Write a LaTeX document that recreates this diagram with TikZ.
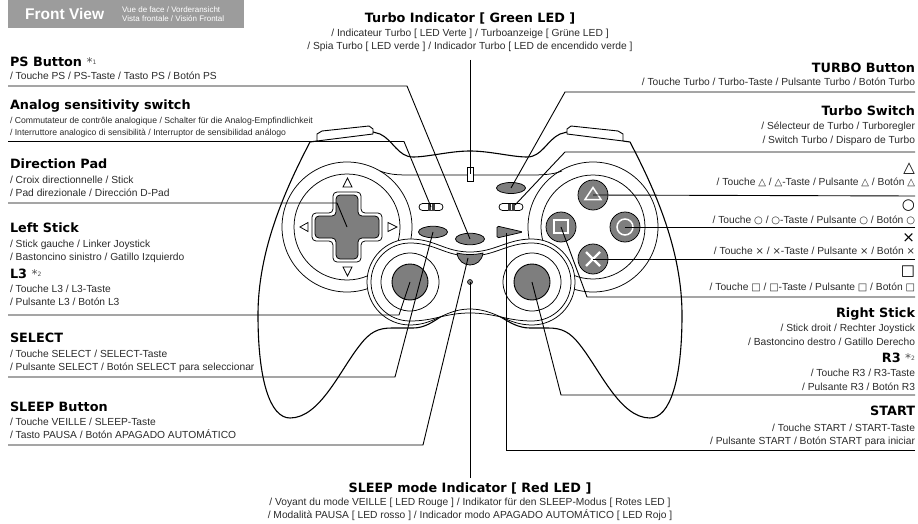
\documentclass[tikz,border=0pt]{standalone}
\usepackage{fontspec}
\setmainfont{Liberation Sans}
\newfontfamily\boldf{DejaVu Sans}[BoldFont={DejaVu Sans Bold}]
\newfontfamily\symf{DejaVu Sans}
\newcommand{\ttlfont}{\fontsize{12.8}{13}\selectfont\boldf\bfseries}
\newcommand{\subfont}{\fontsize{10.25}{11}\selectfont}
\newcommand{\subtight}{\fontsize{8.65}{10}\selectfont}
\newcommand{\sy}[1]{{\symf\fontsize{10}{10}\selectfont #1}}
\newcommand{\bigsy}[1]{{\symf\fontsize{15}{15}\selectfont #1}}
\newcommand{\noteref}[1]{{\fontseries{m}\selectfont\color{black!70}\fontsize{12}{12}\selectfont\symf *\raisebox{2pt}{\fontsize{6}{6}\selectfont #1}}}
\definecolor{btn}{HTML}{7E7E7E}
\definecolor{hdr}{HTML}{9C9C9C}
\definecolor{ink}{HTML}{2A2A2A}
\tikzset{
  x=1pt,y=-1pt,
  txt/.style={inner sep=0pt,outer sep=0pt,text=ink,text height=7pt,text depth=2pt},
  ttlL/.style={txt,anchor=west,text=black,font=\ttlfont},
  ttlR/.style={txt,anchor=east,text=black,font=\ttlfont},
  ttlC/.style={txt,anchor=center,text=black,font=\ttlfont},
  subL/.style={txt,anchor=west,font=\subfont},
  subR/.style={txt,anchor=east,font=\subfont},
  subC/.style={txt,anchor=center,font=\subfont},
  tightL/.style={txt,anchor=west,font=\subtight},
  body/.style={draw=black,line width=1.1pt,line join=round},
  thin line/.style={draw=black,line width=.75pt},
  btnshape/.style={draw=black,line width=.75pt,fill=btn},
  lead/.style={draw=black,line width=.9pt},
  icon/.style={draw=white,line width=1.5pt},
  ebtn/.style={ellipse,draw=black,line width=.75pt,fill=btn,minimum width=29pt,minimum height=11.5pt,inner sep=0pt},
  rbtn/.style={circle,draw=black,line width=.75pt,fill=btn,minimum size=30pt,inner sep=0pt},
  knob/.style={circle,draw=black,line width=.9pt,fill=btn,minimum size=36pt,inner sep=0pt},
  pill/.style={rounded rectangle,draw=black,line width=.75pt,fill=white,minimum width=24pt,minimum height=7pt,inner sep=0pt},
}
\usetikzlibrary{shapes.geometric,shapes.misc}
\begin{document}
\begin{tikzpicture}
\useasboundingbox (0,0) rectangle (918,524);
% header
\node[draw=none,fill=hdr,inner sep=0pt,minimum width=236pt,minimum height=28pt,anchor=north west] (hdrbox) at (8,0) {};
\node[anchor=west,inner sep=0pt,text=white,font=\fontsize{15.5}{16}\selectfont\bfseries] (hdrmain) at (25,14) {Front View};
\node[anchor=west,inner sep=0pt,text=white,font=\fontsize{8}{8.5}\selectfont,align=left] (hdrsub) at (122,14) {Vue de face / Vorderansicht\\Vista frontale / Visión Frontal};

% pads
\draw[thin line] (347,227) circle[radius=65];
\draw[thin line] (347,227) circle[radius=53];
\draw[thin line] (593,227) circle[radius=65];
\draw[thin line] (593,227) circle[radius=52];
% seam
\draw[thin line] (380,171) .. controls (390,175) and (400,175) .. (412,175) -- (528,175) .. controls (540,175) and (552,175) .. (562,171);
% body
\draw[body] (470,151) .. controls (450,151) and (428,157) .. (413,157) .. controls (398,157) and (393,140) .. (380,134) -- (373,132);
\draw[body] (470,151) .. controls (490,151) and (512,157) .. (527,157) .. controls (542,157) and (547,140) .. (560,134) -- (567,132);
% shoulders
\draw[body,line width=.9pt] (317,141) -- (317,134) -- (322,131) -- (369,126) -- (373,129) -- (373,134) -- cycle;
\draw[body,line width=.9pt] (623,141) -- (623,134) -- (618,131) -- (571,126) -- (567,129) -- (567,134) -- cycle;
% lower body
\draw[body] (317,141) -- (310,142) .. controls (285,190) and (258,250) .. (258,315) .. controls (258,380) and (270,418) .. (290,418) .. controls (320,418) and (340,370) .. (360,345) .. controls (370,332) and (378,328) .. (392,328) -- (413,328) .. controls (435,328) and (445,306) .. (470,306) .. controls (495,306) and (507,328) .. (530,328) -- (548,328) .. controls (562,328) and (570,332) .. (580,345) .. controls (600,370) and (620,418) .. (650,418) .. controls (670,418) and (682,380) .. (682,315) .. controls (682,250) and (655,190) .. (630,142) -- (623,141);
% stick peanut
\draw[thin line,fill=white] (470,252) .. controls (445,252) and (435,239) .. (410,239) arc[start angle=270,end angle=90,radius=43] .. controls (435,325) and (445,309) .. (470,309) .. controls (495,309) and (507,325) .. (532,325) arc[start angle=90,end angle=-90,radius=43] .. controls (507,239) and (495,252) .. (470,252) -- cycle;
\draw[thin line] (470,256) .. controls (445,256) and (435,243) .. (410,243) arc[start angle=270,end angle=90,radius=39] .. controls (435,321) and (445,313) .. (470,313) .. controls (495,313) and (507,321) .. (532,321) arc[start angle=90,end angle=-90,radius=39] .. controls (507,243) and (495,256) .. (470,256) -- cycle;
\draw[thin line] (410,282) circle[radius=29];
\draw[thin line] (532,282) circle[radius=29];
\node[knob] (lstick) at (410,282) {};
\node[knob] (rstick) at (532,282) {};
% D-pad
\draw[thin line,fill=white,rounded corners=4pt] (333,192) -- (361,192) -- (361,213) -- (382,213) -- (382,241) -- (361,241) -- (361,262) -- (333,262) -- (333,241) -- (312,241) -- (312,213) -- (333,213) -- cycle;
\draw[btnshape,rounded corners=4pt] (336,195) -- (358,195) -- (358,216) -- (379,216) -- (379,238) -- (358,238) -- (358,259) -- (336,259) -- (336,238) -- (315,238) -- (315,216) -- (336,216) -- cycle;
\coordinate (dpad) at (347,227);
% arrows on the pad
\draw[thin line,line join=miter] (347.5,178) -- (343,187) -- (352,187) -- cycle;
\draw[thin line,line join=miter] (347.5,276) -- (343,267) -- (352,267) -- cycle;
\draw[thin line,line join=miter] (300,227) -- (308,222.5) -- (308,231.5) -- cycle;
\draw[thin line,line join=miter] (397,227) -- (388,222.5) -- (388,231.5) -- cycle;
% face buttons
\node[rbtn] (tri) at (593,195) {};
\node[rbtn] (cir) at (625,227) {};
\node[rbtn] (crs) at (593,259) {};
\node[rbtn] (squ) at (561,227) {};
\draw[icon,line join=miter] (593,187.5) -- (585,199.5) -- (601,199.5) -- cycle;
\draw[icon] (625,227) circle[radius=8];
\draw[icon,line width=2.4pt] (586,252) -- (600,266) (600,252) -- (586,266);
\draw[icon] (554,220) rectangle (568,233);
% centre controls
\node[ebtn] (select) at (433,232) {};
\node[ebtn] (psbtn) at (470,239) {};
\node[ebtn,minimum height=11pt] (turbobtn) at (511,188) {};
\draw[btnshape,rounded corners=1.5pt] (497,226) -- (523,232) -- (497,238) -- cycle;
\coordinate (startbtn) at (506.5,233);
\draw[btnshape] (457,253) .. controls (465,255) and (475,255) .. (483,253) .. controls (482,261) and (476,265) .. (470,265) .. controls (464,265) and (458,261) .. (457,253) -- cycle;
\coordinate (sleepbtn) at (468,258);
% switches
\node[pill] (lsw) at (431,207) {};
\node[pill] (rsw) at (511,207) {};
\fill[black!75] (427.5,203.5) rectangle (434.5,210.5);
\fill[black!75] (507.5,203.5) rectangle (514.5,210.5);
\draw[white,line width=.4pt] (431,204) -- (431,210) (511,204) -- (511,210);
% LEDs
\node[draw=black,line width=.75pt,fill=white,minimum width=6pt,minimum height=14pt,inner sep=0pt] (gled) at (470,174) {};
\node[circle,draw=black,line width=.6pt,fill=btn,minimum size=5pt,inner sep=0pt] (rled) at (470,282) {};

% connector anchors
\coordinate (a1) at (8,86);   \coordinate (b1) at (407,86);
\coordinate (a2) at (8,141.5);\coordinate (b2) at (404,141.5); \coordinate (c2) at (431,207);
\coordinate (a3) at (8,203);  \coordinate (b3) at (337,203);
\coordinate (a4) at (8,315);  \coordinate (b4) at (399,315);
\coordinate (a5) at (8,377);  \coordinate (b5) at (395,377);
\coordinate (a6) at (8,445);  \coordinate (b6) at (423,445);
\coordinate (a7) at (470,60);
\coordinate (a8) at (470,478);
\coordinate (a9) at (915,92); \coordinate (b9) at (565,92);
\coordinate (a10) at (915,152);\coordinate (b10) at (565,152);\coordinate (c10) at (515,205);
\coordinate (a11) at (915,196);
\coordinate (a12) at (915,227);
\coordinate (a13) at (915,259);
\coordinate (a14) at (915,297);\coordinate (b14) at (587,297);
\coordinate (a15) at (915,395);\coordinate (b15) at (561,395);
\coordinate (a16) at (915,450);\coordinate (b16) at (506.5,450);

\draw[lead] (a1) -- (b1) -- (psbtn.center);
\draw[lead] (a2) -- (b2) -- (c2);
\draw[lead] (a3) -- (b3) -- (dpad);
\draw[lead] (a4) -- (b4) -- (lstick.center);
\draw[lead] (a5) -- (b5) -- (select.center);
\draw[lead] (a6) -- (b6) -- (sleepbtn);
\draw[lead] (a7) -- (gled.center);
\draw[lead] (a8) -- (rled.center);
\draw[lead] (a9) -- (b9) -- (turbobtn.center);
\draw[lead] (a10) -- (b10) -- (c10);
\draw[lead] (a11) -- (tri.center);
\draw[lead] (a12) -- (cir.center);
\draw[lead] (a13) -- (crs.center);
\draw[lead] (a14) -- (b14) -- (squ.center);
\draw[lead] (a15) -- (b15) -- (rstick.center);
\draw[lead] (a16) -- (b16) -- (startbtn);

% top centre
\node[ttlC] (t1) at (470,20) {Turbo Indicator [ Green LED ]};
\node[subC] (t2) at (470,34) {/ Indicateur Turbo [ LED Verte ] / Turboanzeige [ Grüne LED ]};
\node[subC] (t3) at (470,47) {/ Spia Turbo [ LED verde ] / Indicador Turbo [ LED de encendido verde ]};
% bottom centre
\node[ttlC] (u1) at (470,490) {SLEEP mode Indicator [ Red LED ]};
\node[subC] (u2) at (470,503) {/ Voyant du mode VEILLE [ LED Rouge ] / Indikator für den SLEEP-Modus [ Rotes LED ]};
\node[subC] (u3) at (470,516) {/ Modalità PAUSA [ LED rosso ] / Indicador modo APAGADO AUTOMÁTICO [ LED Rojo ]};
% left column
\node[ttlL] (l1) at (10,64) {PS Button \noteref{1}};
\node[subL] (l2) at (10,77) {/ Touche PS / PS-Taste / Tasto PS / Botón PS};
\node[ttlL] (l3) at (10,107) {Analog sensitivity switch};
\node[tightL] (l4) at (10,121) {/ Commutateur de contrôle analogique / Schalter für die Analog-Empfindlichkeit};
\node[tightL] (l5) at (10,133) {/ Interruttore analogico di sensibilità / Interruptor de sensibilidad análogo};
\node[ttlL] (l6) at (10,166) {Direction Pad};
\node[subL] (l7) at (10,181) {/ Croix directionnelle / Stick};
\node[subL] (l8) at (10,194) {/ Pad direzionale / Dirección D-Pad};
\node[ttlL] (l9) at (10,230) {Left Stick};
\node[subL] (l10) at (10,245) {/ Stick gauche / Linker Joystick};
\node[subL] (l11) at (10,258) {/ Bastoncino sinistro / Gatillo Izquierdo};
\node[ttlL] (l12) at (10,276) {L3 \noteref{2}};
\node[subL] (l13) at (10,290) {/ Touche L3 / L3-Taste};
\node[subL] (l14) at (10,303) {/ Pulsante L3 / Botón L3};
\node[ttlL] (l15) at (10,340) {SELECT};
\node[subL] (l16) at (10,355) {/ Touche SELECT / SELECT-Taste};
\node[subL] (l17) at (10,368) {/ Pulsante SELECT / Botón SELECT para seleccionar};
\node[ttlL] (l18) at (10,409) {SLEEP Button};
\node[subL] (l19) at (10,423) {/ Touche VEILLE / SLEEP-Taste};
\node[subL] (l20) at (10,436) {/ Tasto PAUSA / Botón APAGADO AUTOMÁTICO};
% right column
\node[ttlR] (r1) at (915,70) {TURBO Button};
\node[subR] (r2) at (915,83) {/ Touche Turbo / Turbo-Taste / Pulsante Turbo / Botón Turbo};
\node[ttlR] (r3) at (915,113) {Turbo Switch};
\node[subR] (r4) at (915,127) {/ Sélecteur de Turbo / Turboregler};
\node[subR] (r5) at (915,141) {/ Switch Turbo / Disparo de Turbo};
\node[txt,anchor=east,text=black] (r6) at (915,170) {\bigsy{△}};
\node[subR] (r7) at (915,183) {/ Touche \sy{△} / \sy{△}-Taste / Pulsante \sy{△} / Botón \sy{△}};
\node[txt,anchor=east,text=black] (r8) at (915,207) {\bigsy{○}};
\node[subR] (r9) at (915,221) {/ Touche \sy{○} / \sy{○}-Taste / Pulsante \sy{○} / Botón \sy{○}};
\node[txt,anchor=east,text=black] (r10) at (915,240) {\bigsy{×}};
\node[subR] (r11) at (915,252) {/ Touche \sy{×} / \sy{×}-Taste / Pulsante \sy{×} / Botón \sy{×}};
\node[txt,anchor=east,text=black] (r12) at (915,273) {\bigsy{□}};
\node[subR] (r13) at (915,288) {/ Touche \sy{□} / \sy{□}-Taste / Pulsante \sy{□} / Botón \sy{□}};
\node[ttlR] (r14) at (915,315) {Right Stick};
\node[subR] (r15) at (915,329) {/ Stick droit / Rechter Joystick};
\node[subR] (r16) at (915,343) {/ Bastoncino destro / Gatillo Derecho};
\node[ttlR] (r17) at (915,360) {R3 \noteref{2}};
\node[subR] (r18) at (915,374) {/ Touche R3 / R3-Taste};
\node[subR] (r19) at (915,388) {/ Pulsante R3 / Botón R3};
\node[ttlR] (r20) at (915,413) {START};
\node[subR] (r21) at (915,429) {/ Touche START / START-Taste};
\node[subR] (r22) at (915,442) {/ Pulsante START / Botón START para iniciar};
\end{tikzpicture}
\end{document}
